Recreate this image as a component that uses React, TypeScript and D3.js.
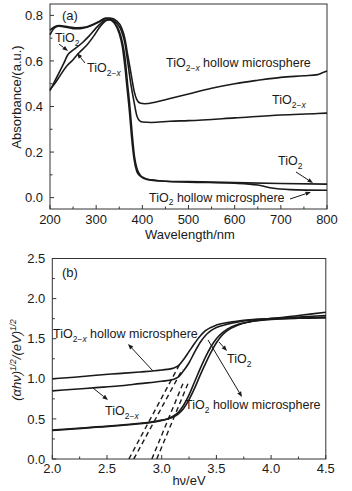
import React from "react";
import * as d3 from "d3";

// ---------- Panel (a) data: absorbance vs wavelength ----------
const wlTiO2 = [200, 210, 220, 230, 238, 245, 255, 270, 285, 300, 310, 320, 330, 340, 350, 357, 362, 368, 373, 378, 383, 388, 395, 405, 420, 450, 500, 600, 700, 800];
const absTiO2 = [0.47, 0.51, 0.55, 0.59, 0.625, 0.64, 0.655, 0.68, 0.71, 0.745, 0.765, 0.78, 0.78, 0.765, 0.73, 0.68, 0.62, 0.5, 0.4, 0.28, 0.18, 0.13, 0.1, 0.085, 0.077, 0.072, 0.07, 0.066, 0.062, 0.059];

const wlTiO2x = [200, 210, 220, 235, 250, 258, 265, 280, 295, 310, 320, 330, 345, 355, 362, 368, 375, 382, 388, 393, 400, 420, 460, 500, 600, 700, 780, 800];
const absTiO2x = [0.475, 0.5, 0.53, 0.575, 0.605, 0.625, 0.64, 0.67, 0.71, 0.755, 0.775, 0.782, 0.765, 0.73, 0.68, 0.6, 0.5, 0.42, 0.36, 0.34, 0.332, 0.33, 0.335, 0.338, 0.35, 0.363, 0.369, 0.371];

const wlTiO2Hollow = [200, 210, 220, 235, 250, 265, 280, 295, 310, 320, 330, 340, 350, 357, 362, 367, 372, 377, 382, 388, 395, 410, 450, 500, 600, 650, 680, 720, 800];
const absTiO2Hollow = [0.715, 0.745, 0.752, 0.748, 0.742, 0.742, 0.748, 0.76, 0.775, 0.785, 0.782, 0.765, 0.72, 0.66, 0.58, 0.48, 0.38, 0.26, 0.17, 0.115, 0.095, 0.08, 0.072, 0.068, 0.063, 0.055, 0.042, 0.035, 0.032];

const wlTiO2xHollow = [200, 210, 220, 240, 260, 280, 295, 310, 320, 330, 345, 355, 362, 368, 375, 382, 388, 395, 405, 430, 460, 500, 550, 600, 650, 700, 750, 780, 790, 800];
const absTiO2xHollow = [0.735, 0.75, 0.755, 0.75, 0.745, 0.75, 0.762, 0.778, 0.788, 0.788, 0.775, 0.745, 0.7, 0.63, 0.55, 0.47, 0.43, 0.415, 0.412, 0.42, 0.435, 0.455, 0.48, 0.5, 0.515, 0.528, 0.535, 0.54, 0.548, 0.556];

// ---------- Panel (b) data: Tauc plot ----------
const evTiO2xHollow = [2.0, 2.2, 2.4, 2.6, 2.8, 3.0, 3.1, 3.15, 3.2, 3.25, 3.3, 3.35, 3.4, 3.5, 3.6, 3.7, 3.8, 4.0, 4.25, 4.5];
const taucTiO2xHollow = [1.0, 1.02, 1.045, 1.065, 1.085, 1.11, 1.13, 1.16, 1.24, 1.34, 1.44, 1.53, 1.6, 1.67, 1.7, 1.72, 1.735, 1.75, 1.76, 1.77];

const evTiO2x = [2.0, 2.2, 2.4, 2.6, 2.8, 3.0, 3.1, 3.15, 3.2, 3.25, 3.3, 3.35, 3.4, 3.45, 3.5, 3.6, 3.7, 3.8, 4.0, 4.25, 4.5];
const taucTiO2x = [0.85, 0.87, 0.89, 0.91, 0.94, 0.97, 0.99, 1.02, 1.1, 1.2, 1.33, 1.45, 1.54, 1.6, 1.64, 1.68, 1.71, 1.73, 1.75, 1.77, 1.79];

const evTiO2 = [2.0, 2.2, 2.4, 2.6, 2.8, 2.9, 3.0, 3.05, 3.1, 3.15, 3.2, 3.25, 3.3, 3.35, 3.4, 3.45, 3.5, 3.55, 3.6, 3.7, 3.8, 4.0, 4.25, 4.5];
const taucTiO2 = [0.355, 0.375, 0.395, 0.415, 0.44, 0.455, 0.48, 0.5, 0.53, 0.58, 0.67, 0.8, 0.96, 1.12, 1.27, 1.4, 1.5, 1.57, 1.62, 1.68, 1.71, 1.74, 1.755, 1.76];

const evTiO2Hollow = [2.0, 2.2, 2.4, 2.6, 2.8, 2.9, 3.0, 3.05, 3.1, 3.15, 3.2, 3.25, 3.3, 3.35, 3.4, 3.45, 3.5, 3.55, 3.6, 3.7, 3.8, 4.0, 4.25, 4.5];
const taucTiO2Hollow = [0.36, 0.38, 0.4, 0.42, 0.445, 0.46, 0.485, 0.5, 0.52, 0.56, 0.63, 0.74, 0.88, 1.04, 1.19, 1.33, 1.45, 1.54, 1.6, 1.67, 1.71, 1.75, 1.79, 1.83];

// dashed tangent extrapolations: [x0, y0, x1, y1]
const tangentStartEv = [2.70, 2.745, 2.91, 2.955];
const tangentEndEv = [3.16, 3.19, 3.2, 3.24];
const tangentEndVal = [1.17, 1.12, 0.96, 0.94];

// ticks
const aMajorX = [200, 300, 400, 500, 600, 700, 800];
const aMinorX = [250, 350, 450, 550, 650, 750];
const aMajorY = [0.0, 0.2, 0.4, 0.6, 0.8];
const aMinorY = [0.1, 0.3, 0.5, 0.7];
const bMajorX = [2.0, 2.5, 3.0, 3.5, 4.0, 4.5];
const bMinorX = [2.25, 2.75, 3.25, 3.75, 4.25];
const bMajorY = [0.0, 0.5, 1.0, 1.5, 2.0, 2.5];
const bMinorY = [0.25, 0.75, 1.25, 1.75, 2.25];

const FONT = "'Liberation Sans', Arial, Helvetica, sans-serif";
const INK = "#1a1a1a";

function Arrow({ x1, y1, x2, y2 }: { x1: number; y1: number; x2: number; y2: number }) {
  const ang = Math.atan2(y2 - y1, x2 - x1);
  const L = 5.5, W = 2.2;
  const bx = x2 - L * Math.cos(ang), by = y2 - L * Math.sin(ang);
  const px = -Math.sin(ang) * W, py = Math.cos(ang) * W;
  return (
    <g>
      <line x1={x1} y1={y1} x2={bx} y2={by} stroke={INK} strokeWidth={1} />
      <path d={`M${x2},${y2}L${bx + px},${by + py}L${bx - px},${by - py}Z`} fill={INK} />
    </g>
  );
}

function Label({ x, y, sub, rest, italicX }: { x: number; y: number; sub: string; rest?: string; italicX?: boolean }) {
  return (
    <text x={x} y={y} fontSize={12.5} fontFamily={FONT} fill={INK}>
      <tspan>TiO</tspan>
      <tspan fontSize={8.5} dy={3.5}>{sub}</tspan>
      {italicX ? <tspan fontSize={8.5} fontStyle="italic">x</tspan> : null}
      {rest ? <tspan dy={-3.5}>{rest}</tspan> : null}
    </text>
  );
}

export default function App() {
  // panel a scales
  const xa = d3.scaleLinear().domain([200, 800]).range([50, 327]);
  const ya = d3.scaleLinear().domain([-0.05, 0.85]).range([209, 4]);
  // panel b scales
  const xb = d3.scaleLinear().domain([2, 4.5]).range([52.3, 325.8]);
  const yb = d3.scaleLinear().domain([0, 2.5]).range([459, 258.5]);

  const lineA = (xs: number[], ys: number[]) =>
    d3.line<number>().x((_, i) => xa(xs[i])).y((v) => ya(v)).curve(d3.curveMonotoneX)(ys) || "";
  const lineB = (xs: number[], ys: number[]) =>
    d3.line<number>().x((_, i) => xb(xs[i])).y((v) => yb(v)).curve(d3.curveMonotoneX)(ys) || "";

  const fmt1 = d3.format(".1f");

  const axes = (
    x: d3.ScaleLinear<number, number>,
    y: d3.ScaleLinear<number, number>,
    mx: number[], nx: number[], my: number[], ny: number[],
    xfmt: (v: number) => string, labelY: number
  ) => {
    const [x0, x1] = x.range();
    const [y0, y1] = y.range();
    return (
      <g>
        <rect x={x0} y={y1} width={x1 - x0} height={y0 - y1} fill="none" stroke="#333" strokeWidth={1} />
        {mx.map((v) => (
          <g key={"mx" + v}>
            <line x1={x(v)} x2={x(v)} y1={y0} y2={y0 - 4} stroke="#333" />
            <text x={x(v)} y={labelY} textAnchor="middle" fontSize={13} fontFamily={FONT} fill={INK}>{xfmt(v)}</text>
          </g>
        ))}
        {nx.map((v) => (
          <line key={"nx" + v} x1={x(v)} x2={x(v)} y1={y0} y2={y0 - 2.5} stroke="#333" />
        ))}
        {my.map((v) => (
          <g key={"my" + v}>
            <line x1={x0} x2={x0 + 4} y1={y(v)} y2={y(v)} stroke="#333" />
            <text x={x0 - 7} y={y(v) + 4.6} textAnchor="end" fontSize={13} fontFamily={FONT} fill={INK}>{fmt1(v)}</text>
          </g>
        ))}
        {ny.map((v) => (
          <line key={"ny" + v} x1={x0} x2={x0 + 2.5} y1={y(v)} y2={y(v)} stroke="#333" />
        ))}
      </g>
    );
  };

  const curveStyle = { fill: "none", stroke: INK, strokeWidth: 1.6, strokeLinejoin: "round" as const };

  return (
    <svg width={352} height={491} style={{ position: "absolute", left: 0, top: 0, background: "#fff" }}>
      {/* Panel (a) */}
      {axes(xa, ya, aMajorX, aMinorX, aMajorY, aMinorY, (v) => String(v), 224)}
      <path d={lineA(wlTiO2, absTiO2)} {...curveStyle} />
      <path d={lineA(wlTiO2x, absTiO2x)} {...curveStyle} />
      <path d={lineA(wlTiO2Hollow, absTiO2Hollow)} {...curveStyle} />
      <path d={lineA(wlTiO2xHollow, absTiO2xHollow)} {...curveStyle} />
      <text x={190} y={239} textAnchor="middle" fontSize={13} fontFamily={FONT} fill={INK}>Wavelength/nm</text>
      <text transform="translate(21,97) rotate(-90)" textAnchor="middle" fontSize={13} fontFamily={FONT} fill={INK}>Absorbance/(a.u.)</text>
      <text x={62} y={20} fontSize={13} fontFamily={FONT} fill={INK}>(a)</text>

      <Label x={55} y={42} sub="2" />
      <Arrow x1={59} y1={44} x2={68} y2={51} />
      <Label x={87} y={72} sub="2−" italicX />
      <Arrow x1={85} y1={63} x2={77} y2={53} />
      <Label x={166} y={67} sub="2−" italicX rest=" hollow microsphere" />
      <Label x={272} y={104} sub="2−" italicX />
      <Label x={278} y={165} sub="2" />
      <Arrow x1={296} y1={172} x2={313} y2={183} />
      <Label x={149} y={201.5} sub="2" rest=" hollow microsphere" />
      <Arrow x1={290} y1={199} x2={311} y2={192} />

      {/* Panel (b) */}
      {axes(xb, yb, bMajorX, bMinorX, bMajorY, bMinorY, fmt1, 473)}
      {tangentStartEv.map((v, i) => (
        <line key={"tg" + i} x1={xb(v)} y1={yb(0)} x2={xb(tangentEndEv[i])} y2={yb(tangentEndVal[i])}
          stroke={INK} strokeWidth={1.4} strokeDasharray="5,3.5" />
      ))}
      <path d={lineB(evTiO2xHollow, taucTiO2xHollow)} {...curveStyle} />
      <path d={lineB(evTiO2x, taucTiO2x)} {...curveStyle} />
      <path d={lineB(evTiO2, taucTiO2)} {...curveStyle} />
      <path d={lineB(evTiO2Hollow, taucTiO2Hollow)} {...curveStyle} />
      <text x={189} y={485} textAnchor="middle" fontSize={13} fontFamily={FONT} fill={INK}>hν/eV</text>
      <text transform="translate(21,360) rotate(-90)" textAnchor="middle" fontSize={13} fontFamily={FONT} fill={INK} fontStyle="italic">
        <tspan>(αhν)</tspan>
        <tspan fontSize={8.5} dy={-5}>1/2</tspan>
        <tspan dy={5}>/(eV)</tspan>
        <tspan fontSize={8.5} dy={-5}>1/2</tspan>
      </text>
      <text x={62} y={277} fontSize={13} fontFamily={FONT} fill={INK}>(b)</text>

      <Label x={53} y={338} sub="2−" italicX rest=" hollow microsphere" />
      <Arrow x1={153} y1={371} x2={128} y2={344} />
      <Label x={105} y={415} sub="2−" italicX />
      <Arrow x1={93} y1={388} x2={108} y2={400} />
      <Label x={227} y={363} sub="2" />
      <Arrow x1={219} y1={342} x2={227} y2={351} />
      <Label x={185} y={409} sub="2" rest=" hollow microsphere" />
      <Arrow x1={208} y1={340} x2={242} y2={397} />
    </svg>
  );
}
